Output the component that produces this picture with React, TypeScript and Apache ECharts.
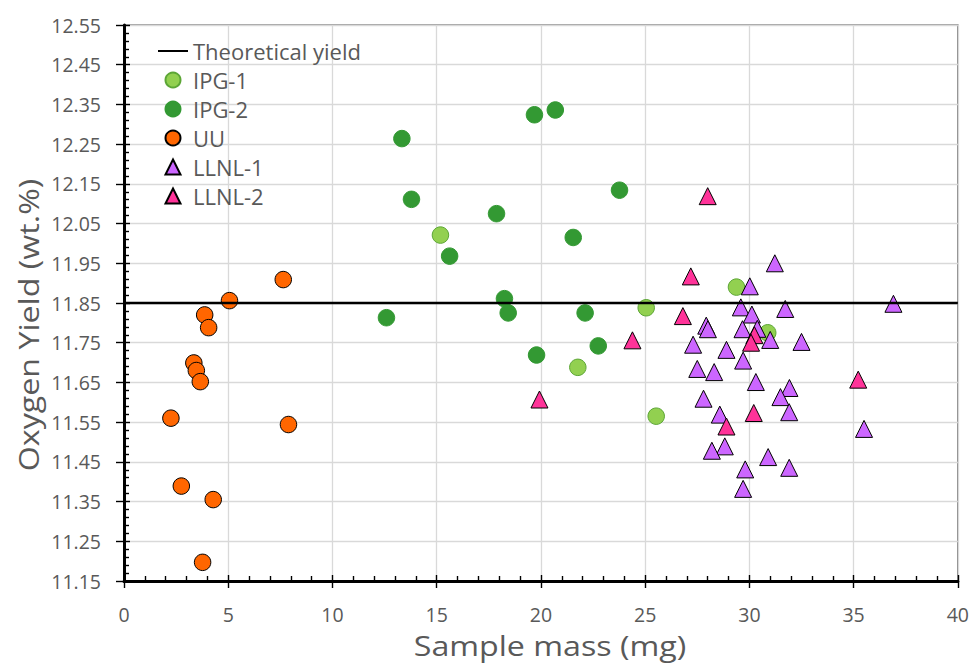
import React, { useEffect, useRef } from "react";
import * as echarts from "echarts";

// ---- data (x = sample mass in mg, y = oxygen yield in wt.%) ----
const theoreticalYield = 11.85;
const xRange = [0, 40];
const yMinLabel = 11.15; // lowest y tick label
const yMaxLabel = 12.55; // highest y tick label

const ipg1: number[][] = [
  [15.18, 12.021], [25.05, 11.838], [21.77, 11.688], [29.38, 11.89], [30.88, 11.775], [25.53, 11.565],
];
const ipg2: number[][] = [
  [13.33, 12.264], [19.69, 12.324], [20.69, 12.336], [13.79, 12.111], [17.87, 12.075], [23.77, 12.134],
  [21.55, 12.015], [15.62, 11.968], [18.25, 11.861], [18.43, 11.825], [12.59, 11.813], [22.12, 11.825],
  [22.75, 11.742], [19.79, 11.719],
];
const uu: number[][] = [
  [7.64, 11.909], [5.06, 11.856], [3.87, 11.82], [4.06, 11.788], [3.35, 11.699], [3.47, 11.68],
  [3.66, 11.652], [2.25, 11.56], [7.89, 11.544], [2.75, 11.389], [4.28, 11.355], [3.77, 11.197],
];
const llnl1: number[][] = [
  [31.22, 11.95], [30.02, 11.892], [29.59, 11.839], [31.72, 11.835], [30.12, 11.821], [27.93, 11.793],
  [28.01, 11.784], [29.67, 11.784], [30.38, 11.785], [31.0, 11.757], [32.5, 11.752], [27.3, 11.745],
  [28.9, 11.732], [29.7, 11.705], [27.5, 11.684], [28.31, 11.676], [30.31, 11.651], [31.92, 11.636],
  [31.49, 11.613], [27.8, 11.609], [31.91, 11.575], [28.58, 11.569], [35.5, 11.533], [28.82, 11.489],
  [28.2, 11.478], [30.9, 11.462], [29.8, 11.431], [31.91, 11.435], [29.7, 11.382], [36.91, 11.848],
];
const llnl2: number[][] = [
  [28.0, 12.119], [27.19, 11.917], [26.81, 11.817], [24.39, 11.756], [30.24, 11.769], [30.08, 11.75],
  [30.21, 11.573], [28.9, 11.539], [35.22, 11.657], [19.93, 11.607],
];

const FONT = "'Open Sans', sans-serif";
const TEXT = "#595959";
const TRIANGLE_ICON = "path://M5,0 L10,10 L0,10 Z";

// y axis works in hundredths above the lowest label so ticks fall on 11.15, 11.25, ...
const toAxis = (y: number) => Math.round((y - yMinLabel) * 10000) / 100;
const conv = (pts: number[][]) => pts.map(([x, y]) => [x, toAxis(y)]);

export default function App() {
  const ref = useRef<HTMLDivElement>(null);
  useEffect(() => {
    const chart = echarts.init(ref.current!, null, { renderer: "svg" });
    const yMax = toAxis(yMaxLabel);
    const tickLine = { color: "#000", width: 1.4 };
    const scatterBase = { type: "scatter", emphasis: { disabled: true }, xAxisIndex: 0, yAxisIndex: 0 };
    chart.setOption({
      animation: false,
      grid: {
        left: 124, right: 14, top: 25, bottom: 85,
        show: true, borderColor: "#7f7f7f", borderWidth: 1.5, backgroundColor: "transparent",
      },
      legend: {
        orient: "vertical", left: 152, top: 35, itemWidth: 30, itemHeight: 15, itemGap: 7,
        selectedMode: false, symbolKeepAspect: true,
        textStyle: { color: TEXT, fontFamily: FONT, fontSize: 22 },
        data: [
          { name: "Theoretical yield", itemStyle: { opacity: 0 } },
          "IPG-1", "IPG-2", "UU",
          { name: "LLNL-1", icon: TRIANGLE_ICON },
          { name: "LLNL-2", icon: TRIANGLE_ICON },
        ],
      },
      xAxis: [
        {
          type: "value", min: xRange[0], max: xRange[1], interval: 5, position: "bottom",
          axisLine: { show: true, onZero: false, lineStyle: { color: "#000", width: 3 } },
          axisTick: { show: true, inside: false, length: 7, lineStyle: tickLine },
          axisLabel: { margin: 23, color: TEXT, fontFamily: FONT, fontSize: 19.5 },
          splitLine: { show: true, lineStyle: { color: "#d9d9d9", width: 1.3 } },
        },
        {
          type: "value", min: xRange[0], max: xRange[1], interval: 5, position: "bottom",
          axisLine: { show: false, onZero: false },
          axisTick: { show: true, inside: true, length: 6, lineStyle: tickLine },
          minorTick: { show: true, splitNumber: 5, length: 5, lineStyle: tickLine },
          axisLabel: { show: false },
          splitLine: { show: false },
        },
      ],
      yAxis: [
        {
          type: "value", min: 0, max: yMax, interval: 10, position: "left",
          axisLine: { show: true, onZero: false, lineStyle: { color: "#000", width: 3 } },
          axisTick: { show: true, inside: false, length: 8, lineStyle: tickLine },
          axisLabel: {
            margin: 23, color: TEXT, fontFamily: FONT, fontSize: 19.5,
            formatter: (v: number) => (yMinLabel + v / 100).toFixed(2),
          },
          splitLine: { show: true, lineStyle: { color: "#d9d9d9", width: 1.3 } },
        },
        {
          type: "value", min: 0, max: yMax, interval: 10, position: "left",
          axisLine: { show: false, onZero: false },
          axisTick: { show: true, inside: true, length: 6, lineStyle: tickLine },
          minorTick: { show: true, splitNumber: 5, length: 5, lineStyle: tickLine },
          axisLabel: { show: false },
          splitLine: { show: false },
        },
      ],
      series: [
        {
          name: "Theoretical yield", type: "line", xAxisIndex: 0, yAxisIndex: 0,
          data: [[xRange[0], toAxis(theoreticalYield)], [xRange[1], toAxis(theoreticalYield)]],
          symbol: "none", lineStyle: { color: "#000", width: 2.5 },
          itemStyle: { color: "rgba(0,0,0,0)", borderWidth: 0 },
          emphasis: { disabled: true },
        },
        {
          ...scatterBase, name: "IPG-1", data: conv(ipg1), symbol: "circle", symbolSize: 16.5,
          itemStyle: { color: "#92d050", borderColor: "#5ca636", borderWidth: 1, opacity: 1 },
        },
        {
          ...scatterBase, name: "IPG-2", data: conv(ipg2), symbol: "circle", symbolSize: 16.5,
          itemStyle: { color: "#339933", borderColor: "#339933", borderWidth: 1, opacity: 1 },
        },
        {
          ...scatterBase, name: "UU", data: conv(uu), symbol: "circle", symbolSize: 16.5,
          itemStyle: { color: "#ff6600", borderColor: "#000", borderWidth: 1, opacity: 1 },
        },
        {
          ...scatterBase, name: "LLNL-1", data: conv(llnl1), symbol: "triangle", symbolSize: 17,
          itemStyle: { color: "#cc66ff", borderColor: "#000", borderWidth: 1, opacity: 1 },
        },
        {
          ...scatterBase, name: "LLNL-2", data: conv(llnl2), symbol: "triangle", symbolSize: 17,
          itemStyle: { color: "#ff3399", borderColor: "#000", borderWidth: 1, opacity: 1 },
        },
      ],
      graphic: [
        {
          type: "text", x: 550, y: 645, scaleX: 1.15,
          style: { text: "Sample mass (mg)", fontFamily: FONT, fontSize: 28, fill: TEXT, align: "center", verticalAlign: "middle" },
        },
        {
          type: "text", x: 28, y: 325, rotation: Math.PI / 2, scaleX: 1.15,
          style: { text: "Oxygen Yield (wt.%)", fontFamily: FONT, fontSize: 28, fill: TEXT, align: "center", verticalAlign: "middle" },
        },
      ],
    });
    return () => chart.dispose();
  }, []);
  return (
    <div
      ref={ref}
      style={{ position: "fixed", left: 0, top: 0, width: 972, height: 666, background: "#fff" }}
    />
  );
}
